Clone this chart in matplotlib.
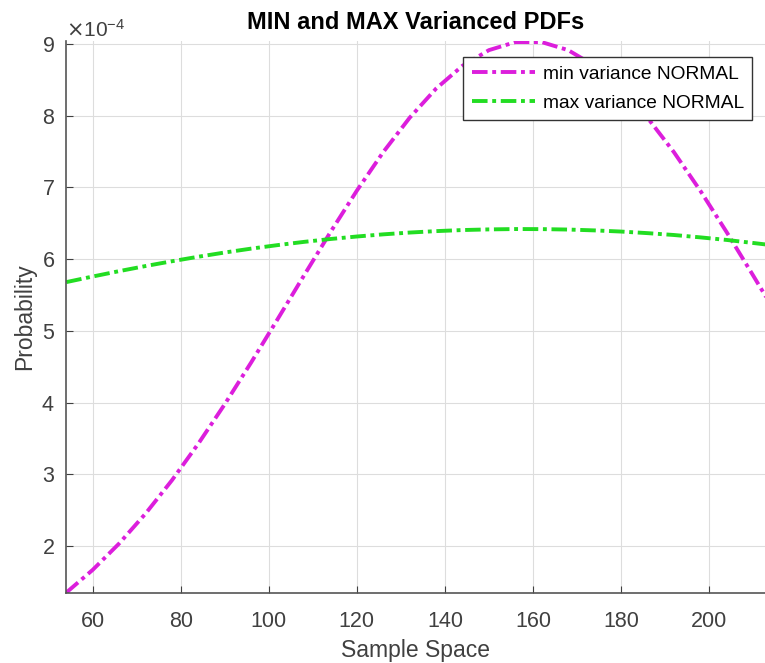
import matplotlib
matplotlib.use("Agg")
import matplotlib.pyplot as plt
from matplotlib.ticker import ScalarFormatter

plt.rcParams['font.family'] = ['Liberation Sans', 'DejaVu Sans']

# sample points (x) and values, in units of 1e-4
x = [54, 60, 66, 72, 78, 84, 90, 96, 102, 108, 114, 120, 126, 132, 138,
     144, 150, 156, 162, 168, 174, 180, 186, 192, 198, 204, 210, 213]
min_var = [1.351, 1.668, 2.035, 2.452, 2.917, 3.428, 3.978, 4.560, 5.163,
           5.773, 6.376, 6.955, 7.493, 7.972, 8.378, 8.696, 8.914, 9.026,
           9.026, 8.914, 8.696, 8.378, 7.972, 7.493, 6.955, 6.376, 5.773, 5.467]
max_var = [5.680, 5.758, 5.833, 5.904, 5.971, 6.034, 6.093, 6.147, 6.196,
           6.241, 6.281, 6.316, 6.346, 6.371, 6.391, 6.406, 6.415, 6.420,
           6.419, 6.413, 6.401, 6.385, 6.363, 6.337, 6.304, 6.268, 6.226, 6.204]
scale = 1e-4

fig = plt.figure(figsize=(7.65, 6.63), dpi=100)
ax = fig.add_axes([0.086, 0.106, 0.914, 0.832])

ls = (0, (4, 1.2, 1, 1.2))
ax.plot(x, [v * scale for v in min_var], color='#dc1edc', lw=2.8, ls=ls,
        label='min variance NORMAL')
ax.plot(x, [v * scale for v in max_var], color='#22dd22', lw=2.8, ls=ls,
        label='max variance NORMAL')

ax.set_xlim(53.9, 212.7)
ax.set_ylim(1.35e-4, 9.04e-4)
ax.set_xticks([60, 80, 100, 120, 140, 160, 180, 200])
ax.set_yticks([v * scale for v in [2, 3, 4, 5, 6, 7, 8, 9]])

fmt = ScalarFormatter(useMathText=True)
fmt.set_powerlimits((0, 0))
ax.yaxis.set_major_formatter(fmt)
ax.yaxis.get_offset_text().set_fontsize(15)
ax.yaxis.get_offset_text().set_color('#404040')

ax.grid(True, color='#dddddd', lw=0.8)
ax.set_axisbelow(True)
for s in ['top', 'right']:
    ax.spines[s].set_visible(False)
for s in ['left', 'bottom']:
    ax.spines[s].set_color('#555555')
    ax.spines[s].set_linewidth(1.2)
ax.tick_params(direction='in', length=5, labelsize=15.5, colors='#404040')
ax.tick_params(axis='x', pad=13)
ax.tick_params(axis='y', pad=8)

ax.set_xlabel('Sample Space', fontsize=16.5, color='#404040', labelpad=5)
ax.set_ylabel('Probability', fontsize=16.5, color='#404040', labelpad=4)
ax.set_title('MIN and MAX Varianced PDFs', fontsize=17, fontweight='bold',
             pad=9)

ax.legend(loc='upper right', bbox_to_anchor=(0.982, 0.972), borderaxespad=0,
          fontsize=13.8, frameon=True, fancybox=False, edgecolor='#333333',
          handlelength=3.3, handletextpad=0.4, borderpad=0.45,
          labelspacing=0.6, framealpha=1)

fig.savefig('out.png', dpi=100)
